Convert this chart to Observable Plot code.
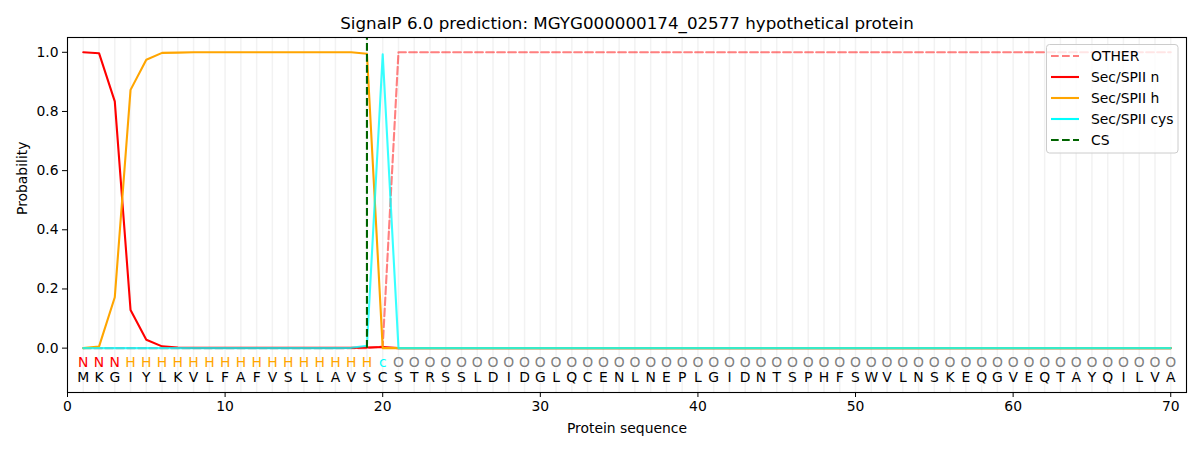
<!DOCTYPE html>
<html><head><meta charset="utf-8">
<script src="https://cdn.jsdelivr.net/npm/d3@7"></script>
<script src="https://cdn.jsdelivr.net/npm/@observablehq/plot@0.6"></script>
<style>body{margin:0;background:#fff;} svg{display:block}</style>
</head><body><div id="chart"></div>
<script>
const title = "SignalP 6.0 prediction: MGYG000000174_02577 hypothetical protein";
const xLabel = "Protein sequence";
const yLabel = "Probability";
const sequence = "MKGIYLKVLFAFVSLLAVSCSTRSSLDIDGLQCENLNEPLGIDNTSPHFSWVLNSKEQGVEQTAYQILVA".split("");
const regionLabels = "NNNHHHHHHHHHHHHHHHHcOOOOOOOOOOOOOOOOOOOOOOOOOOOOOOOOOOOOOOOOOOOOOOOOOO".split("");
const csPosition = 19;
const xTicks = [0, 10, 20, 30, 40, 50, 60, 70];
const yTicks = [0.0, 0.2, 0.4, 0.6, 0.8, 1.0];

const other = [
  0,0,0,0,0,0,0,0,0,0,
  0,0,0,0,0,0,0,0,0,0.005,
  1,1,1,1,1,1,1,1,1,1,
  1,1,1,1,1,1,1,1,1,1,
  1,1,1,1,1,1,1,1,1,1,
  1,1,1,1,1,1,1,1,1,1,
  1,1,1,1,1,1,1,1,1,1];
const secN = [
  1.0,0.997,0.834,0.129,0.028,0.006,0.002,0.001,0.001,0.001,
  0.001,0.001,0.001,0.001,0.001,0.001,0.001,0.001,0.002,0.004,
  0,0,0,0,0,0,0,0,0,0,
  0,0,0,0,0,0,0,0,0,0,
  0,0,0,0,0,0,0,0,0,0,
  0,0,0,0,0,0,0,0,0,0,
  0,0,0,0,0,0,0,0,0,0];
const secH = [
  0.0,0.005,0.172,0.873,0.975,0.998,0.999,1.0,1.0,1.0,
  1.0,1.0,1.0,1.0,1.0,1.0,1.0,1.0,0.995,0.0,
  0,0,0,0,0,0,0,0,0,0,
  0,0,0,0,0,0,0,0,0,0,
  0,0,0,0,0,0,0,0,0,0,
  0,0,0,0,0,0,0,0,0,0,
  0,0,0,0,0,0,0,0,0,0];
const secCys = [
  0,0,0,0,0,0,0,0,0,0,
  0,0,0,0,0,0,0,0.001,0.008,0.993,
  0,0,0,0,0,0,0,0,0,0,
  0,0,0,0,0,0,0,0,0,0,
  0,0,0,0,0,0,0,0,0,0,
  0,0,0,0,0,0,0,0,0,0,
  0,0,0,0,0,0,0,0,0,0];

const labelColors = {N: "red", H: "orange", c: "cyan", O: "#808080"};
const positions = sequence.map((_, i) => i + 1);
const dash = "7.7,3.3";

const plot = Plot.plot({
  width: 1200, height: 450,
  marginLeft: 67, marginRight: 14, marginTop: 37, marginBottom: 58,
  style: {fontFamily: "DejaVu Sans", fontSize: "13.9px", color: "black", background: "white", overflow: "visible"},
  x: {domain: [0, 71]},
  y: {domain: [-0.15, 1.05]},
  marks: [
    Plot.ruleX(positions, {x: d => d, stroke: "#f2f2f2", strokeWidth: 1.5}),
    Plot.line(positions, {x: d => d, y: (d, i) => other[i], stroke: "red", strokeOpacity: 0.5, strokeWidth: 2.1, strokeDasharray: dash}),
    Plot.line(positions, {x: d => d, y: (d, i) => secN[i], stroke: "red", strokeWidth: 2.1}),
    Plot.line(positions, {x: d => d, y: (d, i) => secH[i], stroke: "orange", strokeWidth: 2.1}),
    Plot.line(positions, {x: d => d, y: (d, i) => secCys[i], stroke: "cyan", strokeOpacity: 0.78, strokeWidth: 2.1}),
    Plot.ruleX([csPosition], {x: d => d, y1: 0, y2: 1.05, stroke: "darkgreen", strokeWidth: 2.1, strokeDasharray: dash}),
    Plot.text(positions, {x: d => d, y: -0.05, text: (d, i) => regionLabels[i], fill: (d, i) => labelColors[regionLabels[i]], fontSize: 13.9}),
    Plot.text(positions, {x: d => d, y: -0.1, text: (d, i) => sequence[i], fill: "black", fontSize: 13.9}),
    Plot.frame({stroke: "black", strokeWidth: 1.1}),
    Plot.axisX({ticks: xTicks, tickSize: 5, tickPadding: 4, label: null, tickFormat: d3.format("d")}),
    Plot.axisY({ticks: yTicks, tickSize: 5, tickPadding: 4, label: null, tickFormat: d3.format(".1f")}),
    Plot.text([title], {frameAnchor: "top", lineAnchor: "middle", dy: -14, text: d => d, fontSize: 16.7}),
    Plot.text([xLabel], {frameAnchor: "bottom", lineAnchor: "middle", dy: 36, text: d => d, fontSize: 13.9}),
    Plot.text([yLabel], {frameAnchor: "left", dx: -45, rotate: -90, text: d => d, fontSize: 13.9})
  ]
});
document.getElementById("chart").appendChild(plot);

// legend
const legendItems = [
  {name: "OTHER", color: "red", opacity: 0.5, dash: dash},
  {name: "Sec/SPII n", color: "red", opacity: 1, dash: null},
  {name: "Sec/SPII h", color: "orange", opacity: 1, dash: null},
  {name: "Sec/SPII cys", color: "cyan", opacity: 1, dash: null},
  {name: "CS", color: "darkgreen", opacity: 1, dash: dash}
];
const svg = d3.select(plot);
const lg = svg.append("g").attr("font-family", "DejaVu Sans").attr("font-size", "13.9px").attr("text-anchor", "start");
lg.append("rect").attr("x", 1046.5).attr("y", 44.5).attr("width", 131.5).attr("height", 108.5)
  .attr("rx", 3).attr("fill", "white").attr("fill-opacity", 0.8).attr("stroke", "#cccccc").attr("stroke-width", 1);
legendItems.forEach((it, i) => {
  const y = 56 + i * 21;
  lg.append("line").attr("x1", 1051).attr("x2", 1079).attr("y1", y).attr("y2", y)
    .attr("stroke", it.color).attr("stroke-opacity", it.opacity).attr("stroke-width", 2.1)
    .attr("stroke-dasharray", it.dash);
  lg.append("text").attr("x", 1091).attr("y", y).attr("dy", "0.35em").attr("fill", "black").attr("text-anchor", "start").text(it.name);
});
</script>
</body></html>
